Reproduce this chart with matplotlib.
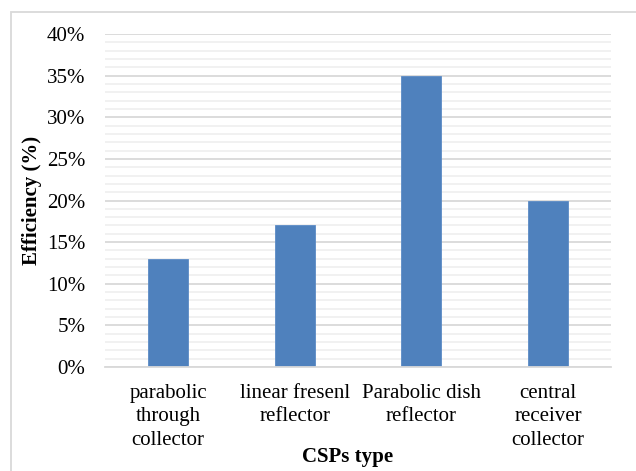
import numpy as np
import matplotlib.pyplot as plt
from matplotlib.patches import Rectangle
from matplotlib.ticker import MultipleLocator, PercentFormatter

plt.rcParams['font.family'] = ['Liberation Serif', 'DejaVu Serif']

types = ['parabolic\nthrough\ncollector', 'linear fresenl\nreflector',
         'Parabolic dish\nreflector', 'central\nreceiver\ncollector']
efficiency = [13, 17, 35, 20]

fig = plt.figure(figsize=(6.36, 4.71), dpi=100)
ax = fig.add_axes([0.165, 0.2208, 0.796, 0.707])

x = np.arange(len(types))
ax.bar(x, efficiency, width=0.316, color='#4f81bd', edgecolor='#5b8bc6',
       linewidth=0.6, zorder=3)

ax.set_xlim(-0.5, len(types) - 0.5)
ax.set_ylim(0, 40)
ax.yaxis.set_major_locator(MultipleLocator(5))
ax.yaxis.set_minor_locator(MultipleLocator(1))
ax.yaxis.set_major_formatter(PercentFormatter(decimals=0))
ax.grid(which='major', axis='y', color='#d9d9d9', linewidth=1.3, zorder=1)
ax.grid(which='minor', axis='y', color='#f0f0f0', linewidth=1.3, zorder=0)

for s in ['top', 'right', 'left']:
    ax.spines[s].set_visible(False)
ax.spines['bottom'].set_color('#d9d9d9')
ax.spines['bottom'].set_linewidth(1.3)
ax.spines['bottom'].set_zorder(4)

ax.set_xticks(x)
ax.set_xticklabels(types, fontsize=15, linespacing=1.32)
ax.tick_params(axis='both', which='both', length=0, labelsize=15)
ax.tick_params(axis='x', pad=12)
ax.tick_params(axis='y', pad=14)

ax.set_ylabel('Efficiency (%)', fontsize=15, fontweight='bold')
ax.yaxis.set_label_coords(-0.125, 0.5)
fig.text(0.546, 0.03, 'CSPs type', fontsize=15, fontweight='bold',
         ha='center', va='center')

fig.patches.append(Rectangle((11 / 636, -0.1), 1.2, 1.1 - 12 / 471,
                             transform=fig.transFigure, fill=False,
                             edgecolor='#d9d9d9', linewidth=1.3))

fig.savefig('out.png', dpi=100)
